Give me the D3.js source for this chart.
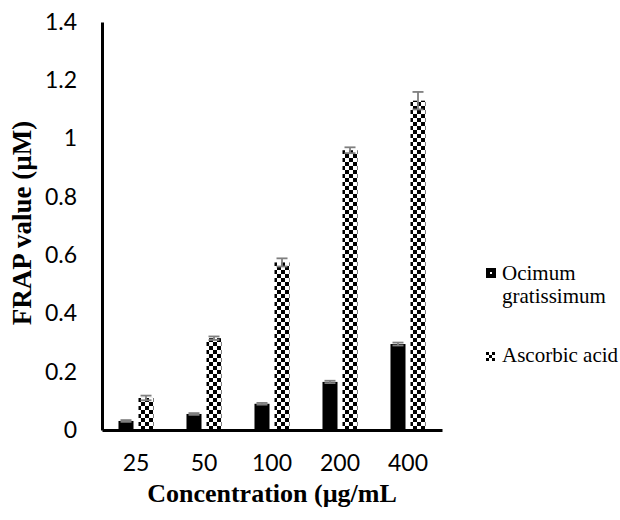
<!DOCTYPE html>
<html>
<head>
<meta charset="utf-8">
<script src="https://cdn.jsdelivr.net/npm/d3@7"></script>
<style>
  body { margin: 0; background: #fff; }
  .legend text { font-family: "Liberation Serif", "Times New Roman", serif; font-size: 21px; }
</style>
</head>
<body>
<div id="chart-area"></div>
<script>
var concentrations = ["25", "50", "100", "200", "400"];
var seriesNames = ["Ocimum gratissimum", "Ascorbic acid"];
var ocimumValues = [0.031, 0.055, 0.09, 0.165, 0.295];
var ocimumErrors = [0.003, 0.003, 0.003, 0.004, 0.005];
var ascorbicValues = [0.11, 0.315, 0.575, 0.96, 1.13];
var ascorbicErrors = [0.008, 0.006, 0.014, 0.01, 0.03];
var yTickValues = [0, 0.2, 0.4, 0.6, 0.8, 1, 1.2, 1.4];
var yTickLabels = ["0", "0.2", "0.4", "0.6", "0.8", "1", "1.2", "1.4"];

var data = concentrations.map((c, i) => {
	return {
		conc: c,
		values: [
			{ name: seriesNames[0], value: ocimumValues[i], err: ocimumErrors[i] },
			{ name: seriesNames[1], value: ascorbicValues[i], err: ascorbicErrors[i] }
		]
	};
});

var svg = d3.select("#chart-area").append("svg")
	.attr("width", 620)
	.attr("height", 520);

var y = d3.scaleLinear()
	.domain([0, 1.4])
	.range([430, 22]);

var x0 = d3.scaleBand()
	.domain(concentrations)
	.range([102, 442])
	.paddingInner(0.485)
	.paddingOuter(0.2425);

var x1 = d3.scaleBand()
	.domain(seriesNames)
	.range([0, x0.bandwidth()])
	.paddingInner(0.25);

// patterns
var defs = svg.append("defs");
var dots = defs.append("pattern")
	.attr("id", "dots")
	.attr("patternUnits", "userSpaceOnUse")
	.attr("x", x0(concentrations[0]) + x1(seriesNames[0]))
	.attr("y", y(0) - 10)
	.attr("width", x0.step())
	.attr("height", 17);
dots.append("rect").attr("width", x0.step()).attr("height", 17).attr("fill", "#000");
dots.append("rect").attr("x", 6.5).attr("y", 0).attr("width", 2).attr("height", 2).attr("fill", "#fff");

var checker = defs.append("pattern")
	.attr("id", "checker")
	.attr("patternUnits", "userSpaceOnUse")
	.attr("x", x0(concentrations[0]) + x1(seriesNames[1]))
	.attr("y", y(0))
	.attr("width", 8)
	.attr("height", 8);
checker.append("rect").attr("width", 8).attr("height", 8).attr("fill", "#fff");
checker.append("rect").attr("width", 4).attr("height", 4).attr("fill", "#000");
checker.append("rect").attr("x", 4).attr("y", 4).attr("width", 4).attr("height", 4).attr("fill", "#000");

var smallChecker = defs.append("pattern")
	.attr("id", "smallChecker")
	.attr("patternUnits", "userSpaceOnUse")
	.attr("x", 486)
	.attr("y", 352)
	.attr("width", 6)
	.attr("height", 6);
smallChecker.append("rect").attr("width", 6).attr("height", 6).attr("fill", "#fff");
smallChecker.append("rect").attr("width", 3).attr("height", 3).attr("fill", "#000");
smallChecker.append("rect").attr("x", 3).attr("y", 3).attr("width", 3).attr("height", 3).attr("fill", "#000");

var fills = d3.scaleOrdinal()
	.domain(seriesNames)
	.range(["url(#dots)", "url(#checker)"]);

// bars
var groups = svg.selectAll("g.group").data(data)
	.enter().append("g")
	.attr("class", "group")
	.attr("transform", (d) => { return "translate(" + x0(d.conc) + ",0)"; });

groups.selectAll("rect").data((d) => { return d.values; })
	.enter().append("rect")
	.attr("x", (d) => { return x1(d.name); })
	.attr("y", (d) => { return y(d.value); })
	.attr("width", x1.bandwidth())
	.attr("height", (d) => { return y(0) - y(d.value); })
	.attr("fill", (d) => { return fills(d.name); });

// error bars
var errs = groups.selectAll("g.err").data((d) => { return d.values; })
	.enter().append("g")
	.attr("class", "err")
	.attr("stroke", "#7f7f7f")
	.attr("stroke-width", 1.8);
var cx = (d) => { return x1(d.name) + x1.bandwidth() / 2; };
errs.append("line")
	.attr("x1", cx).attr("x2", cx)
	.attr("y1", (d) => { return y(d.value - d.err); })
	.attr("y2", (d) => { return y(d.value + d.err); });
errs.append("line")
	.attr("x1", (d) => { return cx(d) - 5.5; })
	.attr("x2", (d) => { return cx(d) + 5.5; })
	.attr("y1", (d) => { return y(d.value + d.err); })
	.attr("y2", (d) => { return y(d.value + d.err); });
errs.append("line")
	.attr("x1", (d) => { return cx(d) - 5.5; })
	.attr("x2", (d) => { return cx(d) + 5.5; })
	.attr("y1", (d) => { return y(d.value - d.err); })
	.attr("y2", (d) => { return y(d.value - d.err); });

// axes
var leftAxis = d3.axisLeft(y)
	.tickValues(yTickValues)
	.tickFormat((d, i) => { return yTickLabels[i]; })
	.tickSize(0)
	.tickPadding(25);
var gy = svg.append("g")
	.attr("class", "left axis")
	.attr("transform", "translate(102,0)")
	.call(leftAxis);

var bottomAxis = d3.axisBottom(x0)
	.tickSize(0)
	.tickPadding(25);
var gx = svg.append("g")
	.attr("class", "bottom axis")
	.attr("transform", "translate(0," + y(0) + ")")
	.call(bottomAxis);

svg.selectAll(".axis path.domain")
	.attr("stroke", "#000")
	.attr("stroke-width", 3);
svg.selectAll(".axis text")
	.attr("font-family", "Lato, sans-serif")
	.attr("font-size", "23px")
	.attr("fill", "#000");

// axis titles
svg.append("text")
	.attr("x", 272)
	.attr("y", 502)
	.attr("text-anchor", "middle")
	.attr("font-family", "'Liberation Serif', serif")
	.attr("font-weight", "bold")
	.attr("font-size", "26px")
	.text("Concentration (µg/mL");

svg.append("text")
	.attr("transform", "translate(31,223) rotate(-90)")
	.attr("text-anchor", "middle")
	.attr("font-family", "'Liberation Serif', serif")
	.attr("font-weight", "bold")
	.attr("font-size", "27px")
	.text("FRAP value (µM)");

// legend
var legend = svg.append("g").attr("class", "legend");
legend.append("rect").attr("x", 486).attr("y", 268).attr("width", 10).attr("height", 10).attr("fill", "#000");
legend.append("rect").attr("x", 490).attr("y", 272).attr("width", 2).attr("height", 2).attr("fill", "#fff");
legend.append("text").attr("x", 502).attr("y", 280).text("Ocimum");
legend.append("text").attr("x", 502).attr("y", 303).text("gratissimum");
legend.append("rect").attr("x", 486).attr("y", 352).attr("width", 9).attr("height", 9).attr("fill", "url(#smallChecker)");
legend.append("text").attr("x", 502).attr("y", 362).text(seriesNames[1]);
</script>
</body>
</html>
